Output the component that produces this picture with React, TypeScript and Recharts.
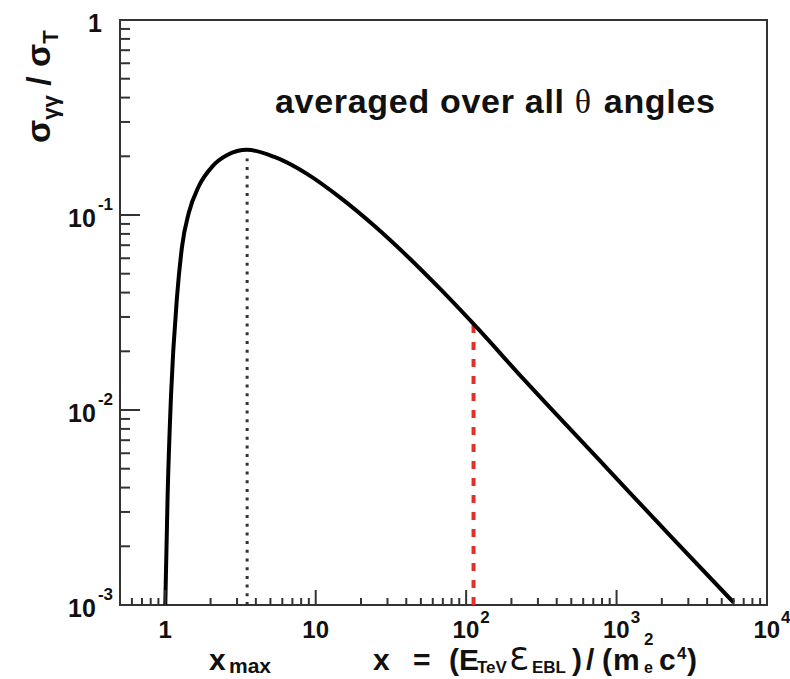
import React from "react";
import { LineChart, Line, XAxis, YAxis, ReferenceArea, Customized } from "recharts";

// angle-averaged cross section
const curveX = [1.0, 1.036, 1.091, 1.197, 1.292, 1.43, 1.667, 2.05, 2.58, 3.5, 5.27, 8.8, 14.7, 24.5, 40.8, 68, 113.6, 243.6, 880, 2448, 6000];
const curveY = [0.001, 0.0036, 0.0117, 0.0381, 0.0688, 0.102, 0.14, 0.177, 0.203, 0.216, 0.199, 0.1621, 0.1221, 0.0881, 0.0613, 0.0414, 0.0273, 0.01426, 0.00495, 0.00213, 0.00103];

// x_max marker (black dotted) and the red dashed marker
const xmaxLineX = [3.5, 3.5];
const xmaxLineY = [0.001, 0.195];
const redLineX = [112, 112];
const redLineY = [0.001, 0.0275];

const xMajorTicks = [1, 10, 100, 1000, 10000];
const xMajorBase = ["1", "10", "10", "10", "10"];
const xMajorExp = ["", "", "2", "3", "4"];
const xMinorTicks = [
  0.6, 0.7, 0.8, 0.9,
  2, 3, 4, 5, 6, 7, 8, 9,
  20, 30, 40, 50, 60, 70, 80, 90,
  200, 300, 400, 500, 600, 700, 800, 900,
  2000, 3000, 4000, 5000, 6000, 7000, 8000, 9000,
];

const yMajorTicks = [0.001, 0.01, 0.1, 1];
const yMajorBase = ["10", "10", "10", "1"];
const yMajorExp = ["-3", "-2", "-1", ""];
const yMinorTicks = [
  0.002, 0.003, 0.004, 0.005, 0.006, 0.007, 0.008, 0.009,
  0.02, 0.03, 0.04, 0.05, 0.06, 0.07, 0.08, 0.09,
  0.2, 0.3, 0.4, 0.5, 0.6, 0.7, 0.8, 0.9,
];

const FONT = "'Liberation Sans', Arial, Helvetica, sans-serif";
const AXIS = "#333";

const toRows = (xs: number[], ys: number[]) => xs.map((x, i) => ({ x, y: ys[i] }));
const curveData = toRows(curveX, curveY);
const xmaxData = toRows(xmaxLineX, xmaxLineY);
const redData = toRows(redLineX, redLineY);

function XTick(props: any) {
  const { x, y, payload } = props;
  const i = xMajorTicks.indexOf(payload.value);
  const major = i >= 0;
  const exp = major ? xMajorExp[i] : "";
  return (
    <g>
      <line x1={x} x2={x} y1={y} y2={y - (major ? 15 : 7)} stroke={AXIS} strokeWidth={2} />
      {major && (
        <text
          x={exp ? x + 5 : x}
          y={y + 33}
          fontSize={24}
          textAnchor="middle"
          fontFamily={FONT}
          fontWeight="bold"
          fill="#111"
        >
          {xMajorBase[i]}
          {exp && (
            <tspan fontSize={17} dx={1} dy={-15}>
              {exp}
            </tspan>
          )}
        </text>
      )}
    </g>
  );
}

function YTick(props: any) {
  const { x, y, payload } = props;
  const i = yMajorTicks.indexOf(payload.value);
  const major = i >= 0;
  const exp = major ? yMajorExp[i] : "";
  return (
    <g>
      <line x1={x} x2={x + (major ? 20 : 10)} y1={y} y2={y} stroke={AXIS} strokeWidth={2} />
      {major && (
        <text
          x={exp ? x - 7 : x - 18}
          y={y + 12}
          fontSize={25}
          textAnchor="end"
          fontFamily={FONT}
          fontWeight="bold"
          fill="#111"
        >
          {yMajorBase[i]}
          {exp && (
            <tspan fontSize={17} dx={2} dy={-17}>
              {exp}
            </tspan>
          )}
        </text>
      )}
    </g>
  );
}

function Annotations() {
  return (
    <g fontFamily={FONT} fontWeight="bold" fill="#111">
      <text x={275} y={113} fontSize={34} textLength={440} lengthAdjust="spacing">
        averaged over all{" "}
        <tspan fontFamily="'Liberation Serif', serif" fontWeight="normal">θ</tspan>
        <tspan dx={12}>angles</tspan>
      </text>

      <text transform="translate(50,143) rotate(-90)" fontSize={34}>
        σ<tspan fontSize={22} dy={8}>γγ</tspan>
        <tspan dy={-8}> / σ</tspan>
        <tspan fontSize={22} dy={8}>T</tspan>
      </text>

      <text x={209} y={670} fontSize={30}>x</text>
      <text x={229} y={673} fontSize={21}>max</text>

      <text fontSize={30}>
        <tspan x={373} y={670}>x</tspan>
        <tspan x={413} y={670}>=</tspan>
        <tspan x={449} y={670}>(</tspan>
        <tspan x={459} y={670}>E</tspan>
        <tspan x={477} y={673} fontSize={17}>TeV</tspan>
        <tspan x={509} y={670} fontSize={32} fontWeight="normal" fontFamily="'DejaVu Sans', sans-serif">Ɛ</tspan>
        <tspan x={532} y={673} fontSize={17}>EBL</tspan>
        <tspan x={572} y={670}>)</tspan>
        <tspan x={586} y={670}>/</tspan>
        <tspan x={602} y={670}>(</tspan>
        <tspan x={613} y={670}>m</tspan>
      </text>
      <text x={644} y={673} fontSize={16}>e</text>
      <text x={644} y={645} fontSize={17}>2</text>
      <text fontSize={30}>
        <tspan x={659} y={670}>c</tspan>
        <tspan x={677} y={659} fontSize={17}>4</tspan>
        <tspan x={687} y={670}>)</tspan>
      </text>
    </g>
  );
}

export default function App() {
  return (
    <div style={{ position: "absolute", left: 0, top: 0, background: "#fff" }}>
      <LineChart width={790} height={679} margin={{ top: 20, right: 23, left: 0, bottom: 0 }}>
        <XAxis
          dataKey="x"
          type="number"
          scale="log"
          domain={[0.5, 10000]}
          allowDataOverflow
          ticks={[...xMinorTicks, ...xMajorTicks]}
          interval={0}
          tick={<XTick />}
          tickLine={false}
          axisLine={false}
          tickSize={0}
          tickMargin={0}
          height={74}
        />
        <YAxis
          type="number"
          scale="log"
          domain={[0.001, 1]}
          allowDataOverflow
          ticks={[...yMinorTicks, ...yMajorTicks]}
          interval={0}
          tick={<YTick />}
          tickLine={false}
          axisLine={false}
          tickSize={0}
          tickMargin={0}
          width={120}
        />
        <ReferenceArea
          x1={0.5}
          x2={10000}
          y1={0.001}
          y2={1}
          fill="none"
          stroke={AXIS}
          strokeWidth={2}
          ifOverflow="visible"
        />
        <Line
          data={xmaxData}
          dataKey="y"
          stroke="#333"
          strokeWidth={3}
          strokeDasharray="3 5.7"
          dot={false}
          isAnimationActive={false}
        />
        <Line
          data={redData}
          dataKey="y"
          stroke="#e0322a"
          strokeWidth={4}
          strokeDasharray="8 9"
          dot={false}
          isAnimationActive={false}
        />
        <Line
          data={curveData}
          dataKey="y"
          type="monotone"
          stroke="#000"
          strokeWidth={4}
          dot={false}
          isAnimationActive={false}
        />
        <Customized component={Annotations} />
      </LineChart>
    </div>
  );
}
